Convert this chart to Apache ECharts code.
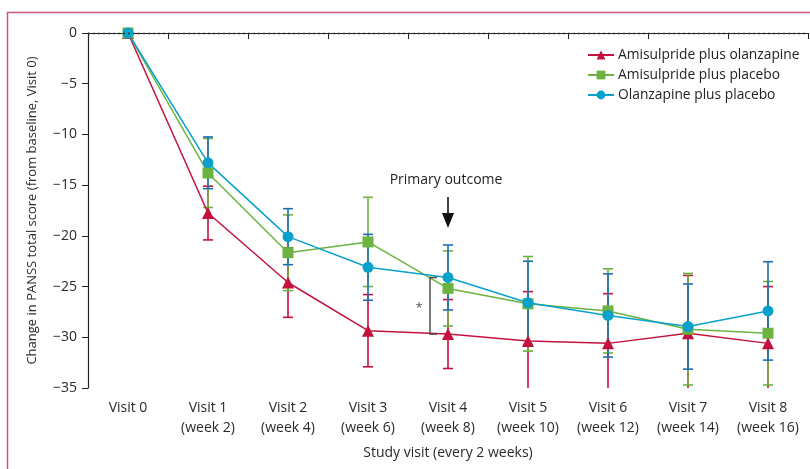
<!DOCTYPE html>
<html>
<head>
<meta charset="utf-8">
<script src="https://cdn.jsdelivr.net/npm/echarts@6/dist/echarts.min.js"></script>
<style>html,body{margin:0;padding:0;background:#fff;}#c{width:810px;height:469px;}</style>
</head>
<body>
<div id="c"></div>
<script>
const categories = ['Visit 0','Visit 1\n(week 2)','Visit 2\n(week 4)','Visit 3\n(week 6)','Visit 4\n(week 8)','Visit 5\n(week 10)','Visit 6\n(week 12)','Visit 7\n(week 14)','Visit 8\n(week 16)'];
const seriesNames = ['Amisulpride plus olanzapine','Amisulpride plus placebo','Olanzapine plus placebo'];
const amiOlzMean = [0,-17.75,-24.6,-29.35,-29.68,-30.37,-30.6,-29.6,-30.6];
const amiOlzErr  = [0,2.65,3.43,3.56,3.4,4.87,4.9,5.7,5.6];
const amiPlbMean = [0,-13.8,-21.66,-20.6,-25.18,-26.7,-27.4,-29.2,-29.6];
const amiPlbErr  = [0,3.4,3.73,4.4,3.7,4.66,4.15,5.5,5.1];
const olzPlbMean = [0,-12.8,-20.08,-23.1,-24.1,-26.6,-27.85,-28.94,-27.4];
const olzPlbErr  = [0,2.55,2.76,3.25,3.2,4.1,4.1,4.2,4.85];
const yTicks = {min:-35, max:0, interval:5};
const primaryIndex = 4;
const annotationTexts = {primary:'Primary outcome', star:'*'};

const FONT = 'Open Sans';
const RED = '#c4123f', GREEN = '#6cb33f', CYAN = '#0aa0cc', BLUE_ERR = '#1c6fb5';

function errData(mean, err){
  const out = [];
  mean.forEach((m,i)=>{ if(err[i]>0) out.push([i, m-err[i], m+err[i]]); });
  return out;
}
function errSeries(mean, err, color){
  return {
    type:'custom', clip:true, z:2, silent:true,
    data: errData(mean, err),
    encode:{x:0, y:[1,2]},
    renderItem:function(params, api){
      const x = api.value(0);
      const lo = api.coord([x, api.value(1)]);
      const hi = api.coord([x, api.value(2)]);
      const w = 5;
      const st = {stroke:color, lineWidth:1.6};
      return {type:'group', children:[
        {type:'line', shape:{x1:lo[0],y1:lo[1],x2:hi[0],y2:hi[1]}, style:st},
        {type:'line', shape:{x1:lo[0]-w,y1:lo[1],x2:lo[0]+w,y2:lo[1]}, style:st},
        {type:'line', shape:{x1:hi[0]-w,y1:hi[1],x2:hi[0]+w,y2:hi[1]}, style:st}
      ]};
    }
  };
}
function lineSeries(name, mean, color, symbol, size){
  return {
    name:name, type:'line', data:mean, symbol:symbol, symbolSize:size, z:3,
    lineStyle:{color:color, width:1.5}, itemStyle:{color:color}, emphasis:{disabled:true}
  };
}

const chart = echarts.init(document.getElementById('c'), null, {renderer:'canvas'});
chart.setOption({
  animation:false,
  backgroundColor:'#fff',
  textStyle:{fontFamily:FONT},
  grid:{left:88, right:2, top:33, bottom:81, containLabel:false},
  graphic:[{type:'polyline', shape:{points:[[7.5,469],[7.5,12.5],[810,12.5]]}, style:{stroke:'#c8557a', lineWidth:1.5, fill:null}, silent:true}],
  legend:{
    orient:'vertical', left:582, top:43, itemWidth:26, itemHeight:11, itemGap:6,
    data:seriesNames,
    textStyle:{fontFamily:FONT, fontSize:13.8, color:'#222', padding:[0,0,0,-1]}
  },
  xAxis:{
    type:'category', data:categories, boundaryGap:true,
    axisLine:{lineStyle:{color:'#222', width:1.2}},
    axisTick:{show:true, interval:0, length:6, lineStyle:{color:'#222'}},
    axisLabel:{interval:0, fontFamily:FONT, fontSize:14, color:'#2a2a2a', lineHeight:20, margin:10},
    name:'Study visit (every 2 weeks)', nameLocation:'middle', nameGap:58,
    nameTextStyle:{fontFamily:FONT, fontSize:14, color:'#2a2a2a'}
  },
  yAxis:{
    type:'value', min:yTicks.min, max:yTicks.max, interval:yTicks.interval,
    axisLine:{show:true, lineStyle:{color:'#222', width:1.2}},
    axisTick:{show:true, length:6, lineStyle:{color:'#222'}},
    splitLine:{show:false},
    axisLabel:{fontFamily:FONT, fontSize:14, color:'#2a2a2a', margin:11,
      formatter:v=> v<0 ? '\u2212'+Math.abs(v) : String(v)},
    name:'Change in PANSS total score (from baseline, Visit 0)', nameLocation:'middle', nameGap:49,
    nameTextStyle:{fontFamily:FONT, fontSize:13, color:'#2a2a2a'}
  },
  series:[
    errSeries(amiOlzMean, amiOlzErr, RED),
    errSeries(amiPlbMean, amiPlbErr, GREEN),
    errSeries(olzPlbMean, olzPlbErr, BLUE_ERR),
    Object.assign(lineSeries(seriesNames[0], amiOlzMean, RED, 'triangle', 12), {
      markLine:{silent:true, symbol:'none', label:{show:false},
        lineStyle:{color:'#333', type:[2,3], width:1.3},
        data:[{yAxis:0}]}
    }),
    lineSeries(seriesNames[1], amiPlbMean, GREEN, 'rect', 11),
    lineSeries(seriesNames[2], olzPlbMean, CYAN, 'circle', 11),
    {
      type:'custom', z:4, silent:true, clip:false,
      data:[[primaryIndex, olzPlbMean[primaryIndex], amiOlzMean[primaryIndex], olzPlbMean[primaryIndex]+olzPlbErr[primaryIndex]]],
      renderItem:function(params, api){
        const x = api.value(0);
        const top = api.coord([x, api.value(1)]);
        const bot = api.coord([x, api.value(2)]);
        const cap = api.coord([x, api.value(3)]);
        const bx = top[0]-18;
        const tip = cap[1]-17, tail = tip-31;
        const gray = {stroke:'#444', lineWidth:1.4, fill:null};
        return {type:'group', children:[
          {type:'polyline', shape:{points:[[bx+7,top[1]],[bx,top[1]],[bx,bot[1]],[bx+7,bot[1]]]}, style:gray},
          {type:'text', x:bx-11, y:(top[1]+bot[1])/2+3, style:{text:annotationTexts.star, fill:'#555', fontSize:13, fontFamily:FONT, align:'center', verticalAlign:'middle'}},
          {type:'line', shape:{x1:top[0],y1:tail,x2:top[0],y2:tip-12}, style:{stroke:'#111', lineWidth:1.6}},
          {type:'polygon', shape:{points:[[top[0]-6,tip-15],[top[0]+6,tip-15],[top[0],tip]]}, style:{fill:'#111'}},
          {type:'text', x:top[0]-2, y:tail-17, style:{text:annotationTexts.primary, fill:'#222', fontSize:14, fontFamily:FONT, align:'center', verticalAlign:'middle'}}
        ]};
      }
    }
  ]
});
</script>
</body>
</html>
